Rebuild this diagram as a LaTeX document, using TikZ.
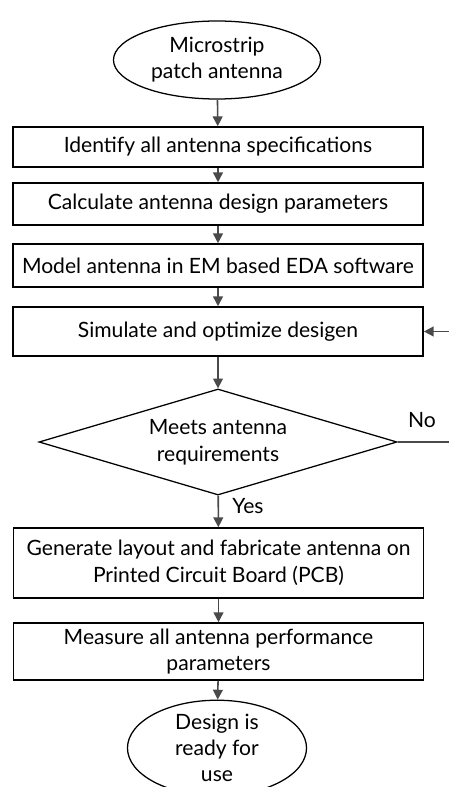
\documentclass[tikz,border=0pt]{standalone}
\usepackage{fontspec}
\setmainfont{Lato}
\usetikzlibrary{calc,shapes.geometric,arrows.meta}
\definecolor{linegray}{HTML}{4A4A4A}
\tikzset{
	stepbox/.style={draw,line width=1.1pt,minimum width=10.25cm,inner sep=0pt,align=center,font=\fontsize{15}{19}\selectfont},
	terminal/.style={draw,ellipse,line width=0.9pt,inner sep=0pt,align=center,font=\fontsize{15}{18.5}\selectfont},
	decision/.style={draw,diamond,aspect=3.38,line width=0.9pt,inner sep=0pt,align=center,font=\fontsize{15}{19}\selectfont},
	flow/.style={draw=linegray,line width=1.1pt,-{Triangle[length=7pt,width=7pt,fill=linegray]}},
	tag/.style={font=\fontsize{15}{18}\selectfont},
}
\begin{document}
\begin{tikzpicture}[x=0.025cm,y=-0.025cm]
		\useasboundingbox (0,0) rectangle (448,787);
		\node (start) at (217,60) [terminal,minimum width=5.175cm,minimum height=1.95cm] {Microstrip\\patch antenna};
		\node (spec) at (218,147) [stepbox,minimum height=1cm] {Identify all antenna specifications};
		\node (calc) at (218,204) [stepbox,minimum height=1.05cm] {Calculate antenna design parameters};
		\node (model) at (218,265.5) [stepbox,minimum height=1.075cm] {Model antenna in EM based EDA software};
		\node (sim) at (218,331.5) [stepbox,minimum height=1.225cm] {Simulate and optimize desigen};
		\node (meets) at (218,442) [decision,minimum width=8.95cm,minimum height=2.65cm] {Meets antenna\\requirements};
		\node (fab) at (218.5,563) [stepbox,minimum height=1.75cm] {Generate layout and fabricate antenna on\\Printed Circuit Board (PCB)};
		\node (meas) at (218.5,651.5) [stepbox,minimum height=1.425cm] {Measure all antenna performance\\parameters};
		\node (ready) at (217,748) [terminal,minimum width=4.475cm,minimum height=1.9cm] {Design is\\ready for\\use};
		\coordinate (loop) at (455,442);
		% main flow
		\draw[flow] (start) -- (spec);
		\draw[flow] (spec) -- (calc);
		\draw[flow] (calc) -- (model);
		\draw[flow] (model) -- (sim);
		\draw[flow] (sim) -- (meets);
		\draw[flow] (meets) -- (fab);
		\draw[flow] (fab) -- (meas);
		\draw[flow] (meas) -- (ready);
		% back to simulation
		\draw[flow] (meets.east) -- (loop) |- (sim.east);
		\node (no) at (422,420) [tag] {No};
		\node (yes) at (248,506) [tag] {Yes};
	\end{tikzpicture}
\end{document}
